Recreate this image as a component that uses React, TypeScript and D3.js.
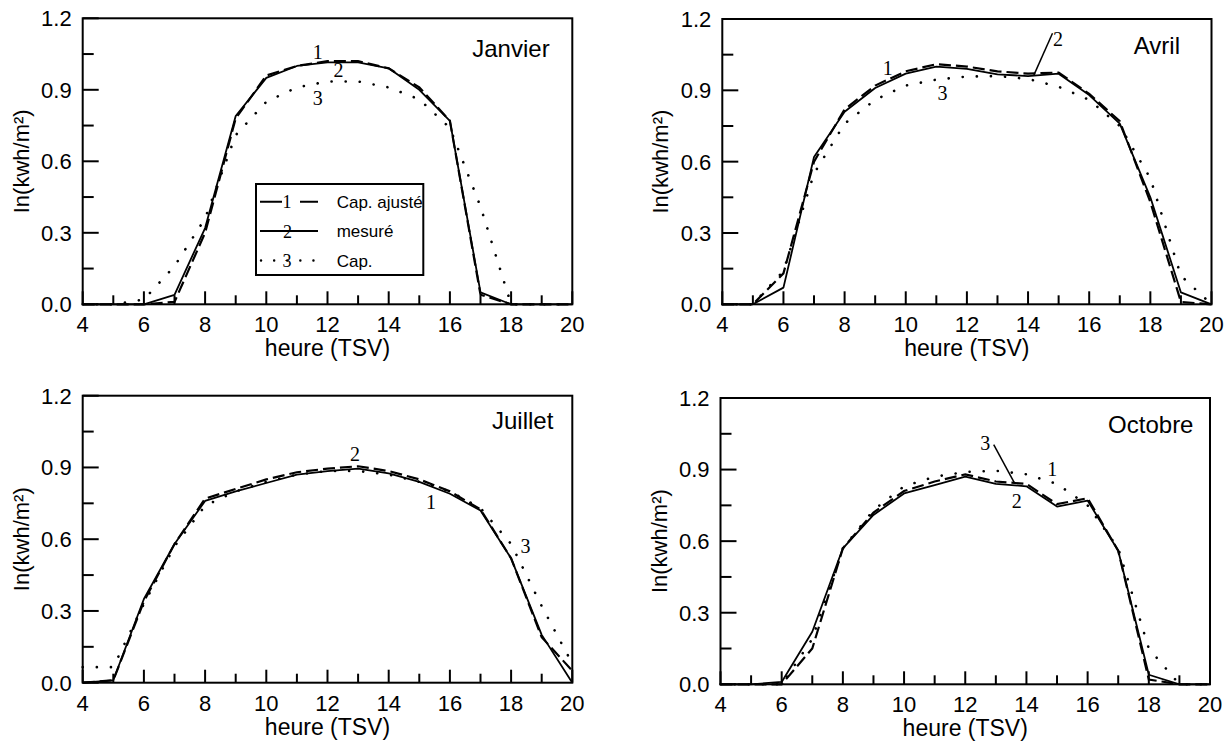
import React from 'react';
import * as d3 from 'd3';

// ---------- data ----------
const HOURS = [4, 5, 6, 7, 8, 9, 10, 11, 12, 13, 14, 15, 16, 17, 18, 19, 20];
const X_TICKS = [4, 6, 8, 10, 12, 14, 16, 18, 20];
const X_MINOR = [5, 7, 9, 11, 13, 15, 17, 19];
const Y_TICKS = [0, 0.3, 0.6, 0.9, 1.2];
const Y_MINOR = [0.15, 0.45, 0.75, 1.05];

const janvierAjuste = [0, 0, 0, 0.01, 0.3, 0.78, 0.96, 1.0, 1.02, 1.02, 0.99, 0.91, 0.77, 0.04, 0, 0, 0];
const janvierMesure = [0, 0, 0, 0.04, 0.32, 0.79, 0.95, 1.0, 1.015, 1.015, 0.99, 0.9, 0.77, 0.05, 0, 0, 0];
const janvierCap = [0, 0, 0.02, 0.16, 0.36, 0.71, 0.85, 0.91, 0.935, 0.935, 0.91, 0.86, 0.74, 0.41, 0, 0, 0];

const avrilAjuste = [0, 0, 0.13, 0.6, 0.82, 0.92, 0.98, 1.01, 1.0, 0.98, 0.97, 0.975, 0.885, 0.77, 0.43, 0.01, 0];
const avrilMesure = [0, 0, 0.07, 0.62, 0.81, 0.91, 0.97, 1.0, 0.99, 0.967, 0.96, 0.97, 0.88, 0.76, 0.45, 0.05, 0];
const avrilCap = [0, 0, 0.14, 0.55, 0.76, 0.86, 0.92, 0.945, 0.958, 0.96, 0.948, 0.915, 0.86, 0.75, 0.53, 0.12, 0];

const juilletAjuste = [0, 0.01, 0.34, 0.58, 0.77, 0.81, 0.85, 0.88, 0.895, 0.905, 0.885, 0.85, 0.8, 0.725, 0.52, 0.19, 0.05];
const juilletMesure = [0, 0.01, 0.35, 0.58, 0.76, 0.8, 0.835, 0.87, 0.885, 0.895, 0.875, 0.84, 0.79, 0.72, 0.52, 0.2, 0];
const juilletCap = [0.065, 0.065, 0.33, 0.57, 0.74, 0.8, 0.84, 0.87, 0.885, 0.885, 0.87, 0.84, 0.8, 0.73, 0.58, 0.32, 0.08];

const octobreAjuste = [0, 0, 0, 0.15, 0.57, 0.72, 0.81, 0.85, 0.88, 0.85, 0.84, 0.755, 0.78, 0.56, 0.02, 0, 0];
const octobreMesure = [0, 0, 0.01, 0.22, 0.57, 0.71, 0.8, 0.835, 0.87, 0.84, 0.83, 0.745, 0.77, 0.56, 0.04, 0, 0];
const octobreCap = [0, 0, 0, 0.19, 0.57, 0.73, 0.83, 0.87, 0.89, 0.895, 0.88, 0.84, 0.75, 0.57, 0.15, 0.0, 0];

const MONTHS = ['Janvier', 'Avril', 'Juillet', 'Octobre'];
const LEGEND_LABELS = ['Cap. ajusté', 'mesuré', 'Cap.'];
const X_TITLE = 'heure (TSV)';
const Y_TITLE = 'In(kwh/m²)';

// curve number labels: [text, hour, value]
const janvierNums: [string, number, number][] = [['1', 11.68, 1.03], ['2', 12.36, 0.955], ['3', 11.68, 0.836]];
const avrilNums: [string, number, number][] = [['1', 9.41, 0.964], ['2', 14.98, 1.087], ['3', 11.2, 0.86]];
const juilletNums: [string, number, number][] = [['2', 12.9, 0.926], ['1', 15.38, 0.727], ['3', 18.47, 0.542]];
const octobreNums: [string, number, number][] = [['3', 12.65, 0.981], ['1', 14.84, 0.875], ['2', 13.68, 0.74]];

// leader lines: [h1, v1, h2, v2]
const avrilLeader = [14.8, 1.14, 14.19, 0.964];
const octobreLeader = [12.93, 1.005, 13.62, 0.841];

// ---------- layout ----------
const PANELS = [
  { month: MONTHS[0], ajuste: janvierAjuste, mesure: janvierMesure, cap: janvierCap, nums: janvierNums, leader: null as number[] | null,
    box: { left: 82.7, right: 572.3, top: 18.3, bottom: 304.3 }, label: [19.26, 1.039], legend: true, titleOff: 52 },
  { month: MONTHS[1], ajuste: avrilAjuste, mesure: avrilMesure, cap: avrilCap, nums: avrilNums, leader: avrilLeader,
    box: { left: 722.3, right: 1211.5, top: 19, bottom: 304.3 }, label: [18.97, 1.053], legend: false, titleOff: 52 },
  { month: MONTHS[2], ajuste: juilletAjuste, mesure: juilletMesure, cap: juilletCap, nums: juilletNums, leader: null,
    box: { left: 82.7, right: 572.3, top: 395.7, bottom: 682.7 }, label: [19.38, 1.059], legend: false, titleOff: 52 },
  { month: MONTHS[3], ajuste: octobreAjuste, mesure: octobreMesure, cap: octobreCap, nums: octobreNums, leader: octobreLeader,
    box: { left: 720.5, right: 1210, top: 398, bottom: 684.3 }, label: [19.46, 1.054], legend: false, titleOff: 52 },
];

const SANS = 'Arial, "Liberation Sans", Helvetica, sans-serif';
const SERIF = '"Times New Roman", "Liberation Serif", serif';
const DASH = '12 5';
const DOT = '0.1 14';

function Legend() {
  const x0 = 256, y0 = 184, w = 167.3, h = 91;
  const rows = [201.7, 231, 260.5];
  return (
    <g>
      <rect x={x0} y={y0} width={w} height={h} fill="white" stroke="black" strokeWidth={2} />
      <line x1={260} x2={318} y1={rows[0]} y2={rows[0]} stroke="black" strokeWidth={2} strokeDasharray="22 18 18" />
      <text x={287} y={rows[0] + 6.5} fontFamily={SERIF} fontSize={18} textAnchor="middle">1</text>
      <line x1={260} x2={318} y1={rows[1]} y2={rows[1]} stroke="black" strokeWidth={2} />
      <text x={287.5} y={rows[1] + 6.5} fontFamily={SERIF} fontSize={18} textAnchor="middle">2</text>
      <line x1={261} x2={318} y1={rows[2]} y2={rows[2]} stroke="black" strokeWidth={2.4} strokeLinecap="round" strokeDasharray="0.1 13" />
      <text x={287} y={rows[2] + 6.5} fontFamily={SERIF} fontSize={18} textAnchor="middle">3</text>
      {LEGEND_LABELS.map((t, i) => (
        <text key={t} x={336.7} y={rows[i] + 6} fontFamily={SANS} fontSize={17}>{t}</text>
      ))}
    </g>
  );
}

function Panel({ p }: { p: typeof PANELS[number] }) {
  const { box } = p;
  const x = d3.scaleLinear().domain([4, 20]).range([box.left, box.right]);
  const y = d3.scaleLinear().domain([0, 1.2]).range([box.bottom, box.top]);
  const line = d3.line<number>().x((_, i) => x(HOURS[i])).y((d) => y(d));
  return (
    <g>
      {/* series */}
      <path d={line(p.cap) || ''} fill="none" stroke="black" strokeWidth={2.6} strokeLinecap="round" strokeDasharray={DOT} />
      <path d={line(p.mesure) || ''} fill="none" stroke="black" strokeWidth={1.8} strokeLinejoin="round" />
      <path d={line(p.ajuste) || ''} fill="none" stroke="black" strokeWidth={2.2} strokeDasharray={DASH} />
      {/* frame */}
      <rect x={box.left} y={box.top} width={box.right - box.left} height={box.bottom - box.top} fill="none" stroke="black" strokeWidth={2} />
      {/* x ticks */}
      {X_TICKS.map((t) => (
        <g key={'xt' + t}>
          <line x1={x(t)} x2={x(t)} y1={box.bottom} y2={box.bottom - 13} stroke="black" strokeWidth={2} />
          <text x={x(t)} y={box.bottom + 28} fontFamily={SANS} fontSize={22} textAnchor="middle">{t}</text>
        </g>
      ))}
      {X_MINOR.map((t) => (
        <line key={'xm' + t} x1={x(t)} x2={x(t)} y1={box.bottom} y2={box.bottom - 9} stroke="black" strokeWidth={2} />
      ))}
      {/* y ticks */}
      {Y_TICKS.map((t) => (
        <g key={'yt' + t}>
          <line x1={box.left} x2={box.left + 16} y1={y(t)} y2={y(t)} stroke="black" strokeWidth={2} />
          <text x={box.left - 11} y={y(t)} dy="0.36em" fontFamily={SANS} fontSize={22} textAnchor="end">{t.toFixed(1)}</text>
        </g>
      ))}
      {Y_MINOR.map((t) => (
        <line key={'ym' + t} x1={box.left} x2={box.left + 11} y1={y(t)} y2={y(t)} stroke="black" strokeWidth={2} />
      ))}
      {/* titles */}
      <text x={(box.left + box.right) / 2} y={box.bottom + p.titleOff} fontFamily={SANS} fontSize={23} textAnchor="middle">{X_TITLE}</text>
      <text transform={`translate(${box.left - 54},${(box.top + box.bottom) / 2}) rotate(-90)`} fontFamily={SANS} fontSize={22} textAnchor="middle">{Y_TITLE}</text>
      <text x={x(p.label[0])} y={y(p.label[1])} fontFamily={SANS} fontSize={24} textAnchor="end">{p.month}</text>
      {/* curve numbers */}
      {p.nums.map(([t, h, v], i) => (
        <text key={'n' + i} x={x(h)} y={y(v)} fontFamily={SERIF} fontSize={20} textAnchor="middle">{t}</text>
      ))}
      {p.leader && (
        <line x1={x(p.leader[0])} y1={y(p.leader[1])} x2={x(p.leader[2])} y2={y(p.leader[3])} stroke="black" strokeWidth={1.5} />
      )}
      {p.legend && <Legend />}
    </g>
  );
}

export default function App() {
  return (
    <svg width={1232} height={745} style={{ position: 'absolute', left: 0, top: 0, background: 'white' }}>
      <rect x={0} y={0} width={1232} height={745} fill="white" />
      {PANELS.map((p) => (
        <Panel key={p.month} p={p} />
      ))}
    </svg>
  );
}
